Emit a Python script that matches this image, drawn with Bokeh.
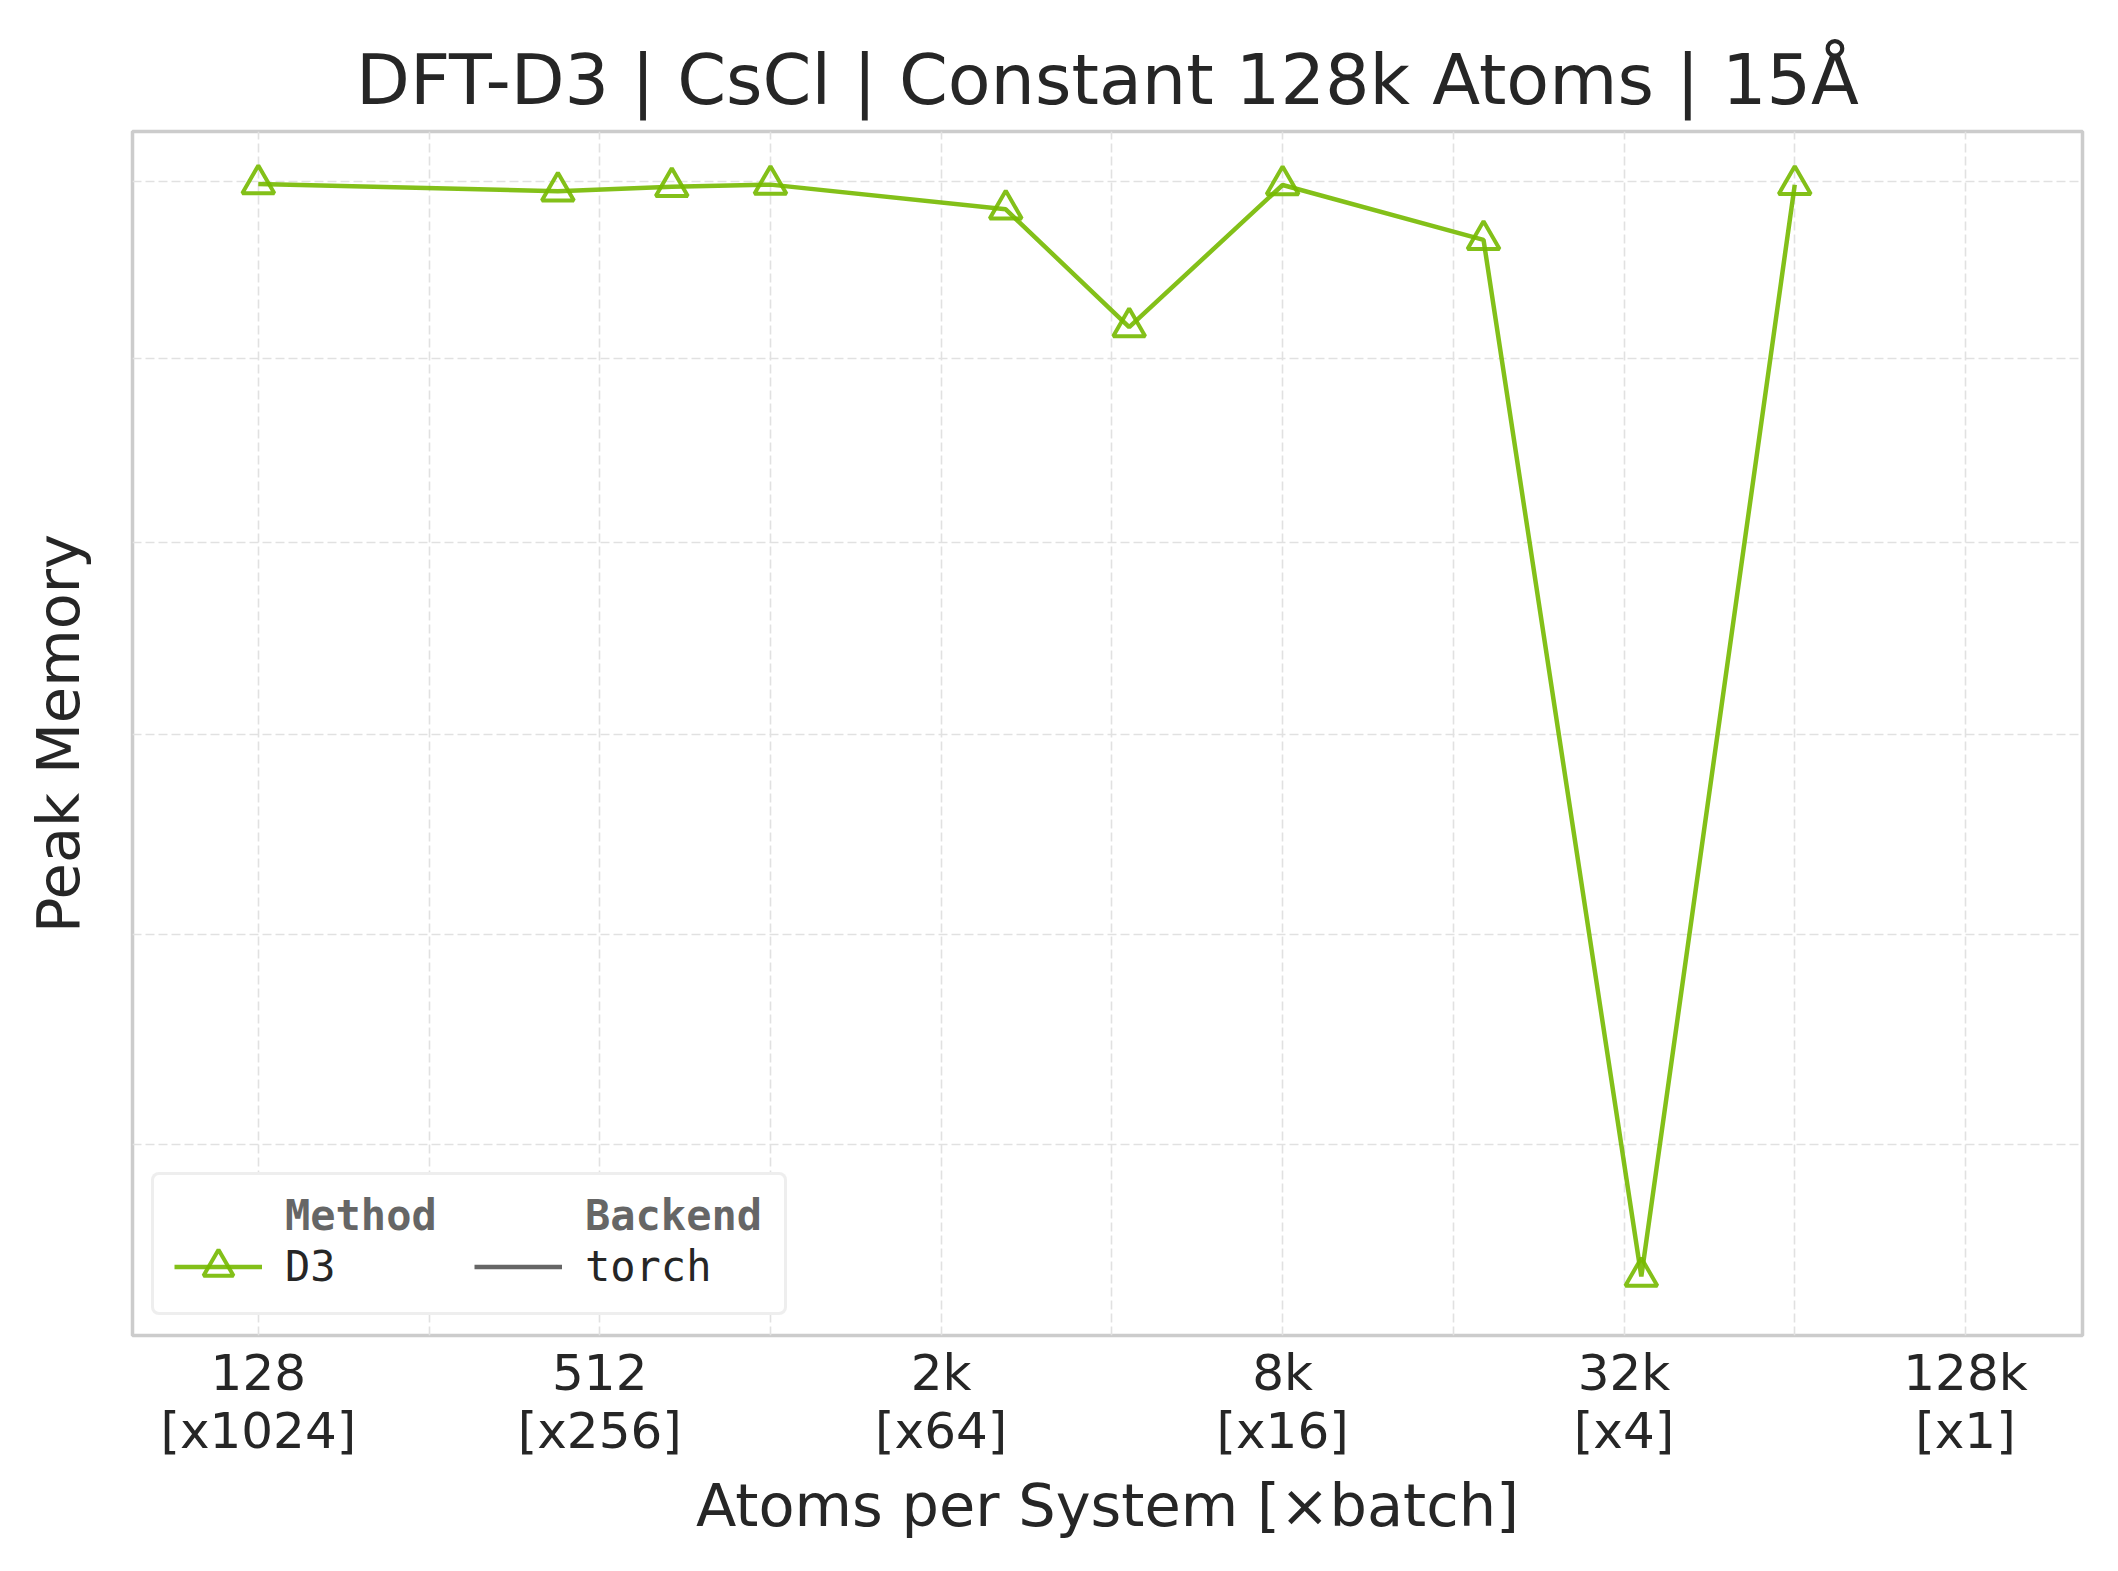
from bokeh.plotting import figure
from bokeh.models import FixedTicker, Legend, LegendItem, Range1d
from bokeh.core.properties import value
from bokeh.embed import file_html
from bokeh.resources import INLINE

# ---- data ----
atoms = [128, 432, 686, 1024, 2662, 4394, 8192, 18522, 35152, 65536]
peak_mem = [25.986, 25.944, 25.970, 25.982, 25.840, 25.174, 25.980, 25.666, 20.394, 25.981]

x_ticks = [128, 512, 2048, 8192, 32768, 131072]
x_minor = [256, 1024, 4096, 16384, 65536]
x_labels = ["128\n[x1024]", "512\n[x256]", "2k\n[x64]", "8k\n[x16]", "32k\n[x4]", "128k\n[x1]"]
y_ticks = [21, 22, 23, 24, 25, 26]

GREEN = "#76b900"
TEXT = "#262626"
NAN = float("nan")

p = figure(width=2100, height=1553, x_axis_type="log", y_axis_type="log",
           x_range=Range1d(76.8, 210800), y_range=Range1d(20.129, 26.29),
           output_backend="svg", toolbar_location=None,
           min_border_left=132, min_border_right=18, min_border_top=131, min_border_bottom=218,
           title="DFT-D3 | CsCl | Constant 128k Atoms | 15Å")

p.background_fill_color = "white"
p.border_fill_color = "white"
p.outline_line_color = "#cccccc"
p.outline_line_width = 3.5

p.title.text_font = "DejaVu Sans"
p.title.text_font_size = "70px"
p.title.text_font_style = "normal"
p.title.text_color = TEXT
p.title.align = "center"
p.title.standoff = 21

xt = FixedTicker(ticks=x_ticks, minor_ticks=x_minor)
yt = FixedTicker(ticks=y_ticks, minor_ticks=[])
p.xaxis.ticker = xt
p.yaxis.ticker = yt
p.xgrid.ticker = xt
p.ygrid.ticker = yt

for g in (p.xgrid, p.ygrid):
    g.grid_line_color = "#e1e1e1"
    g.grid_line_width = 1.6
    g.grid_line_dash = "9 4"
p.xgrid.minor_grid_line_color = "#e1e1e1"
p.xgrid.minor_grid_line_width = 1.6
p.xgrid.minor_grid_line_dash = "9 4"

for ax in (p.xaxis, p.yaxis):
    ax.axis_line_color = None
    ax.major_tick_out = 0
    ax.major_tick_in = 0
    ax.minor_tick_out = 0
    ax.minor_tick_in = 0
    ax.axis_label_text_font = "DejaVu Sans"
    ax.axis_label_text_font_size = "59px"
    ax.axis_label_text_font_style = "normal"
    ax.axis_label_text_color = TEXT
    ax.major_label_text_font = "DejaVu Sans"
    ax.major_label_text_color = TEXT

p.xaxis.major_label_overrides = {t: l for t, l in zip(x_ticks, x_labels)}
p.xaxis.major_label_text_font_size = "50px"
p.xaxis.major_label_text_line_height = 1.0
p.xaxis.major_label_standoff = 8
p.xaxis.axis_label = "Atoms per System [×batch]"
p.xaxis.axis_label_standoff = 8

p.yaxis.major_label_overrides = {t: "" for t in y_ticks}
p.yaxis.major_label_standoff = 0
p.yaxis.axis_label = "Peak Memory"
p.yaxis.axis_label_standoff = 40

line_r = p.line(atoms, peak_mem, line_color=GREEN, line_alpha=0.9, line_width=4.5)
scat_r = p.scatter(atoms, peak_mem, marker="triangle", size=32, fill_color=None,
                   line_color=GREEN, line_alpha=0.9, line_width=4)

# legend handles (not plotted: NaN only)
blank_r = p.line([NAN], [NAN], line_alpha=0)
torch_r = p.line([NAN], [NAN], line_color="#666666", line_width=4.5)

# legend frame (box only)
frame_lg = Legend(items=[LegendItem(label=value(""), renderers=[blank_r])],
                  location=(19, 20), padding=0, spacing=0, margin=0,
                  glyph_width=10, glyph_height=137, label_height=137,
                  label_standoff=0, label_width=620,
                  border_line_color="#dddddd", border_line_width=3,
                  background_fill_color="white", background_fill_alpha=1.0)
if "border_radius" in Legend.properties():
    frame_lg.border_radius = 8

cols = dict(orientation="horizontal", padding=0, margin=0, spacing=12,
            glyph_width=88, label_standoff=23, label_width=177,
            label_text_font="DejaVu Sans Mono", label_text_font_size="42px",
            border_line_alpha=0, background_fill_alpha=0)

header = Legend(items=[LegendItem(label=value("Method"), renderers=[blank_r]),
                       LegendItem(label=value("Backend"), renderers=[blank_r])],
                location=(42, 95), glyph_height=50, label_height=50,
                label_text_color="#666666", label_text_font_style="bold", **cols)
body = Legend(items=[LegendItem(label=value("D3"), renderers=[line_r, scat_r]),
                     LegendItem(label=value("torch"), renderers=[torch_r])],
              location=(42, 31), glyph_height=75, label_height=75,
              label_text_color=TEXT, **cols)

p.add_layout(frame_lg, "center")
p.add_layout(header, "center")
p.add_layout(body, "center")

open("out.html", "w").write(file_html(p, INLINE))
